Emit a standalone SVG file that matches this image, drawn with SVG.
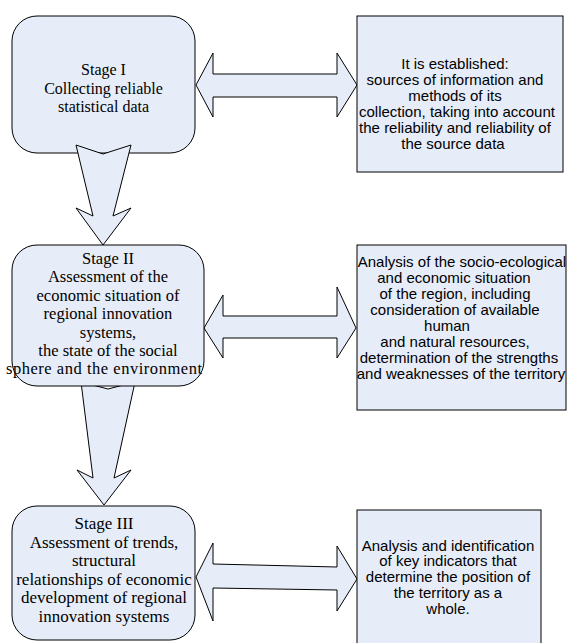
<svg xmlns="http://www.w3.org/2000/svg" width="567" height="643" viewBox="0 0 567 643">
<style>
.box{fill:#E7EDF8;stroke:#000;stroke-width:1}
.arr{fill:#E7EDF8;stroke:#000;stroke-width:1;stroke-linejoin:miter}
.st{font-family:"Liberation Serif","Times New Roman",serif;font-size:16px;fill:#000;text-anchor:middle}
.rt{font-family:"Liberation Sans",Arial,sans-serif;font-size:15px;fill:#000;text-anchor:middle}
</style>
<rect width="567" height="643" fill="#fff"/>
<g id="stage1">
<rect class="box" x="12" y="16" width="183" height="137" rx="25" ry="25"/>
<text class="st"><tspan x="103.5" y="75">Stage I</tspan><tspan x="103.5" y="93.5">Collecting reliable</tspan><tspan x="103.5" y="112">statistical data</tspan></text>
</g>
<g id="connectors">
<polygon class="arr" points="76,145 103,154 131,145 113,216 131,208 103,245 76,208 93,216"/>
<polygon class="arr" points="81,382 108,389 135,382 114,478 131,470 104,505 77,470 93,478"/>
<polygon class="arr" points="196,85 213,53 213,74 337,74 337,53 357,85 337,117 337,97 213,97 213,117"/>
<polygon class="arr" points="204,328 223,295 223,316 337,316 337,287 356,328 337,358 337,338 223,338 223,358"/>
<polygon class="arr" points="196,577 213,543 213,564 337,567 337,546 357,579 337,611 337,590 213,588 213,621"/>
</g>
<g id="stage2">
<rect class="box" x="12" y="245" width="192" height="141" rx="25" ry="25"/>
<text class="st" style="font-size:16.5px"><tspan x="108" y="264">Stage II</tspan><tspan x="108" y="282.4">Assessment of the</tspan><tspan x="108" y="300.8">economic situation of</tspan><tspan x="108" y="319.2">regional innovation</tspan><tspan x="108" y="337.6">systems,</tspan><tspan x="108" y="356">the state of the social</tspan></text>
<text class="st" style="font-size:16.5px" x="104" y="374.4" textLength="196" lengthAdjust="spacing">sphere and the environment</text>
</g>
<g id="stage3">
<rect class="box" x="12" y="506" width="183" height="134" rx="25" ry="25"/>
<text class="st" style="font-size:17px"><tspan x="104" y="529">Stage III</tspan><tspan x="104" y="547.5">Assessment of trends,</tspan><tspan x="104" y="566">structural</tspan><tspan x="104" y="584.5">relationships of economic</tspan><tspan x="104" y="603">development of regional</tspan><tspan x="104" y="621.5">innovation systems</tspan></text>
</g>
<g id="result1">
<rect class="box" x="357" y="16" width="206" height="156"/>
<text class="rt"><tspan x="455" y="69">It is established:</tspan><tspan x="455" y="85">sources of information and</tspan><tspan x="455" y="101">methods of its</tspan><tspan x="457" y="117">collection, taking into account</tspan><tspan x="455" y="133">the reliability and reliability of</tspan><tspan x="453" y="149">the source data</tspan></text>
</g>
<g id="result2">
<rect class="box" x="357" y="245" width="209" height="165"/>
<text class="rt"><tspan x="462" y="266.5">Analysis of the socio-ecological</tspan><tspan x="454" y="282.5">and economic situation</tspan><tspan x="455" y="298.5">of the region, including</tspan><tspan x="455" y="314.5">consideration of available</tspan><tspan x="447" y="330.5">human</tspan><tspan x="455" y="346.5">and natural resources,</tspan><tspan x="459" y="362.5">determination of the strengths</tspan><tspan x="461" y="378.5">and weaknesses of the territory</tspan></text>
</g>
<g id="result3">
<rect class="box" x="357" y="510" width="184" height="140"/>
<text class="rt"><tspan x="448" y="550.5">Analysis and identification</tspan><tspan x="448" y="566.3">of key indicators that</tspan><tspan x="448" y="582">determine the position of</tspan><tspan x="448" y="597.8">the territory as a</tspan><tspan x="448" y="613.6">whole.</tspan></text>
</g>
</svg>
